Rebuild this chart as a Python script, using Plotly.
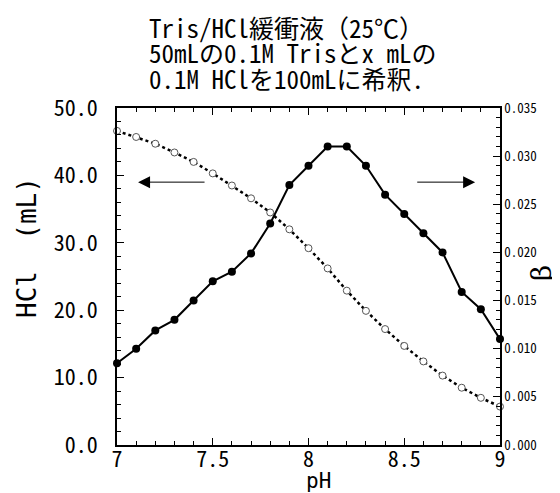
import plotly.graph_objects as go

# ---- data ----
ph = [7.0, 7.1, 7.2, 7.3, 7.4, 7.5, 7.6, 7.7, 7.8, 7.9, 8.0,
      8.1, 8.2, 8.3, 8.4, 8.5, 8.6, 8.7, 8.8, 8.9, 9.0]
hcl_ml = [46.6, 45.7, 44.7, 43.4, 42.0, 40.3, 38.5, 36.6, 34.5, 32.0, 29.2,
          26.2, 22.9, 19.9, 17.2, 14.7, 12.4, 10.3, 8.5, 7.0, 5.7]
beta = [0.0085, 0.0100, 0.0119, 0.0130, 0.0150, 0.0170, 0.0180, 0.0199, 0.0230, 0.0270, 0.0290,
        0.0310, 0.0310, 0.0290, 0.0260, 0.0240, 0.0220, 0.0200, 0.0159, 0.0141, 0.0110]

x_tick_vals = [7, 7.5, 8, 8.5, 9]
x_tick_text = ["7", "7.5", "8", "8.5", "9"]
y_tick_vals = [0, 10, 20, 30, 40, 50]
y_tick_text = ["0.0", "10.0", "20.0", "30.0", "40.0", "50.0"]
b_tick_vals = [0, 0.005, 0.010, 0.015, 0.020, 0.025, 0.030, 0.035]
b_tick_text = ["0.000", "0.005", "0.010", "0.015", "0.020", "0.025", "0.030", "0.035"]

title_lines = ["Tris/HCl緩衝液（25℃）", "50mLの0.1M Trisとx mLの", "0.1M HClを100mLに希釈."]

FONT = "Noto Sans Mono CJK JP, DejaVu Sans Mono, Noto Sans CJK JP, monospace"
LATIN_MONO = "DejaVu Sans Mono, monospace"

fig = go.Figure()
fig.add_trace(go.Scatter(
    x=ph, y=hcl_ml, mode="lines+markers", cliponaxis=False,
    line=dict(color="black", width=2.5, dash="dot"),
    marker=dict(symbol="circle", size=7, color="white", line=dict(color="#555", width=1)),
    showlegend=False))
fig.add_trace(go.Scatter(
    x=ph, y=beta, yaxis="y2", mode="lines+markers", cliponaxis=False,
    line=dict(color="black", width=2),
    marker=dict(symbol="circle", size=8, color="black"),
    showlegend=False))

axis_common = dict(showgrid=False, zeroline=False, showline=True, linecolor="black",
                   linewidth=1.5, ticks="inside", tickcolor="black", ticklen=7, tickwidth=1.2)

fig.update_layout(
    width=560, height=493,
    margin=dict(l=109, r=68, t=100, b=56),
    paper_bgcolor="white", plot_bgcolor="white",
    font=dict(family=FONT, color="black"),
    xaxis=dict(range=[7, 9], tickmode="array", tickvals=x_tick_vals, ticktext=x_tick_text,
               mirror="ticks", tickfont=dict(size=22), ticklabelstandoff=-6,
               minor=dict(tick0=7, dtick=0.1, ticks="inside", ticklen=4, tickcolor="black"),
               **axis_common),
    yaxis=dict(range=[0, 50], tickmode="array", tickvals=y_tick_vals, ticktext=y_tick_text,
               tickfont=dict(size=22), ticklabelstandoff=13,
               minor=dict(tick0=0, dtick=2, ticks="inside", ticklen=4, tickcolor="black"),
               **axis_common),
    yaxis2=dict(range=[0, 0.035], overlaying="y", side="right", tickmode="array",
                tickvals=b_tick_vals, ticktext=b_tick_text, tickfont=dict(size=13),
                ticklabelstandoff=0,
                minor=dict(tick0=0, dtick=0.001, ticks="inside", ticklen=4, tickcolor="black"),
                **axis_common),
)

# title: one text block; base font sets the line spacing, spans set glyph size
title_text = "<br>".join('<span style="font-size:25px">%s</span>' % t for t in title_lines)
ann = [dict(text=title_text, xref="paper", yref="paper", x=(139 - 109) / 383,
            y=(437 - 44) / 337, xanchor="left", yanchor="middle", align="left",
            showarrow=False, font=dict(size=19.6, family=FONT))]
# axis titles
ann.append(dict(text="HCl  (mL)", xref="paper", yref="paper", x=(19 - 109) / 383, y=(437 - 240) / 337,
                xanchor="center", yanchor="middle", textangle=-90, showarrow=False,
                font=dict(size=26, family=LATIN_MONO)))
ann.append(dict(text="β", xref="paper", yref="paper", x=(533 - 109) / 383, y=(437 - 265) / 337,
                xanchor="center", yanchor="middle", textangle=-90, showarrow=False,
                font=dict(size=28, family="DejaVu Serif, serif")))
ann.append(dict(text="pH", xref="paper", yref="paper", x=(310 - 109) / 383, y=(437 - 473) / 337,
                xanchor="center", yanchor="middle", showarrow=False,
                font=dict(size=21, family=LATIN_MONO)))
# arrows
ann.append(dict(x=7.11, y=39, ax=7.465, ay=39, xref="x", yref="y", axref="x", ayref="y",
                text="", showarrow=True, arrowhead=2, arrowsize=2.4, arrowwidth=1, arrowcolor="black"))
ann.append(dict(x=8.87, y=39, ax=8.56, ay=39, xref="x", yref="y", axref="x", ayref="y",
                text="", showarrow=True, arrowhead=2, arrowsize=2.4, arrowwidth=1, arrowcolor="black"))
fig.update_layout(annotations=ann)

fig.write_html("out.html")
